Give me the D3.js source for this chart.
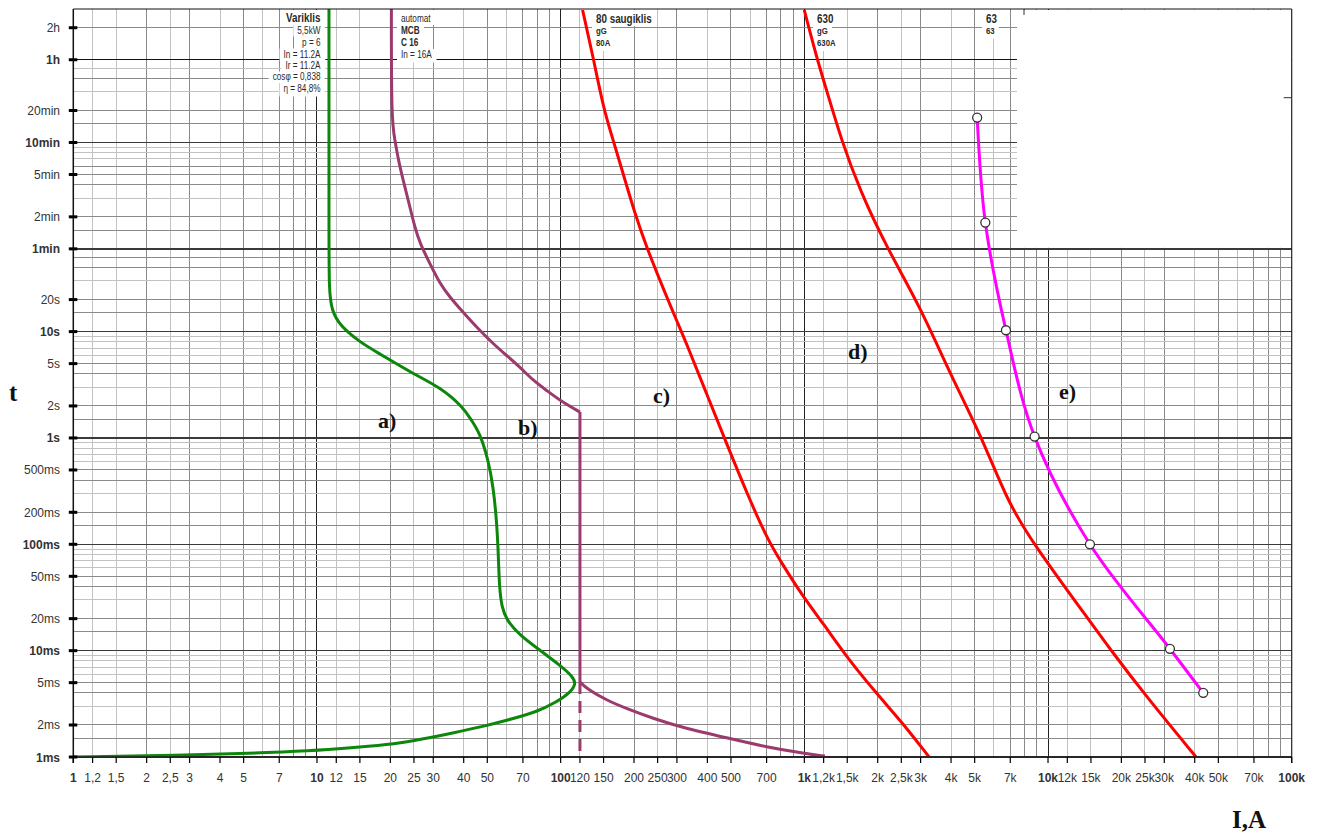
<!DOCTYPE html>
<html>
<head>
<meta charset="utf-8">
<script src="https://d3js.org/d3.v7.min.js"></script>
<style>
  body { margin: 0; background: #fff; }
  svg { display: block; }
</style>
</head>
<body>
<div id="graph"></div>
<script>
var w = 1320, h = 834;

// axis ticks
var xTickVals = [1,1.2,1.5,2,2.5,3,4,5,7,10,12,15,20,25,30,40,50,70,100,120,150,200,250,300,400,500,700,
  1000,1200,1500,2000,2500,3000,4000,5000,7000,10000,12000,15000,20000,25000,30000,40000,50000,70000,100000];
var xTickLabels = ["1","1,2","1,5","2","2,5","3","4","5","7","10","12","15","20","25","30","40","50","70",
  "100","120","150","200","250","300","400","500","700","1k","1,2k","1,5k","2k","2,5k","3k","4k","5k","7k",
  "10k","12k","15k","20k","25k","30k","40k","50k","70k","100k"];
var yTickVals = [0.001,0.002,0.005,0.01,0.02,0.05,0.1,0.2,0.5,1,2,5,10,20,60,120,300,600,1200,3600,7200];
var yTickLabels = ["1ms","2ms","5ms","10ms","20ms","50ms","100ms","200ms","500ms","1s","2s","5s","10s","20s",
  "1min","2min","5min","10min","20min","1h","2h"];
var yMajor = [0.001,0.01,0.1,1,10,60,600,3600];

// grid lines (seconds)
var yGridMid = [0.0015,0.002,0.004,0.005,0.015,0.02,0.04,0.05,0.15,0.2,0.4,0.5,1.5,2,4,5,15,20,40,50,
  90,120,240,300,360,900,1200,2400,7200];
var yGridLight = [0.003,0.006,0.007,0.008,0.009,0.03,0.06,0.07,0.08,0.09,0.3,0.6,0.7,0.8,0.9,3,6,7,8,9,30,
  180,420,480,540,1800,3000];
var xGridMant = [1.2,1.5,2,2.5,3,4,5,6,7,8,9];
var xGridMidMant = [2,3,5,7,8,9];

// curves: [current A, time s]
var curveA = [[11.2,10800],[11.2,89],[11.2,24],[11.5,15.8],[12.4,11.4],[15.0,7.95],[18.1,6.18],[24.8,4.01],
  [32.0,3.0],[39.8,1.95],[43.1,1.46],[46.7,1.1],[50.5,0.614],[52.9,0.345],[54.6,0.168],[55.5,0.082],
  [56.0,0.04],[57.3,0.0257],[60.0,0.0193],[68.1,0.0139],[82.2,0.0101],[99.3,0.0073],[112.6,0.00565],
  [115.5,0.0049],[110,0.00408],[96.3,0.00329],[79.7,0.00265],[60.0,0.00221],[48.1,0.00194],[35.1,0.00166],
  [30.0,0.00154],[21.9,0.00135],[16.5,0.00126],[11.3,0.00117],[7.05,0.00111],[4.98,0.00108],[2.83,0.00104],[1,0.001]];
var curveBUpper = [[20.2,10800],[20.2,964],[20.9,625],[21.6,405],[22.6,263],[23.7,171],[25.2,95.7],[26.5,66.9],
  [29.1,43.4],[32.0,28.1],[35.1,21.1],[39.8,15.2],[45.2,11.0],[52.9,7.68],[60.0,5.96],[68.1,4.63],[77.2,3.47],
  [87.6,2.80],[99.3,2.25],[120,1.75]];
var curveBLower = [[120,0.00507],[127.9,0.0044],[154.5,0.00341],[186.6,0.00285],[239.9,0.0023],[308.8,0.00192],
  [495,0.00149],[700,0.00124],[996,0.00108],[1215,0.00102]];
var curveBDash = [[120,0.00507],[120,0.001]];
var curveC = [[123,10570],[136,3793],[149.5,1285],[164.4,625],[180.6,304],[201.8,128],[225.4,62.1],[255.6,30.2],
  [299,12.7],[328.8,7.68],[397.3,2.60],[479.9,0.882],[598,0.259],[700,0.117],[794,0.0706],[990,0.0319],
  [1196,0.018],[1492,0.0087],[1980,0.00394],[2546,0.00206],[3250,0.001]];
var curveD = [[999,10570],[1123,3793],[1235,1845],[1422,625],[1691,212],[2176,62.1],[2981,17.3],[3958,4.04],
  [5340,1.03],[6761,0.263],[8690,0.101],[14860,0.0189],[17930,0.0104],[25390,0.00367],[40500,0.001]];
var curveE = [[5120,1030],[5530,106],[6720,10.3],[8810,1.03],[14860,0.1],[31640,0.0104],[43350,0.00401]];

// text blocks at the top
var boxVariklis = [["Variklis",12,"bold",22],["5,5kW",10,"normal",33.5],["p = 6",10,"normal",45.5],
  ["In = 11.2A",10,"normal",57.5],["Ir = 11.2A",10,"normal",68.5],["cos\u03c6 = 0,838",10,"normal",80],
  ["\u03b7 = 84,8%",10,"normal",91.5]];
var boxMCB = [["automat",10,"normal",22],["MCB",10,"bold",34],["C 16",10,"bold",46],["In = 16A",10,"normal",57.5]];
var box80 = [["80 saugiklis",12,"bold",23],["gG",9.5,"bold",33.5],["80A",9.5,"bold",46]];
var box630 = [["630",12,"bold",23],["gG",9.5,"bold",33.5],["630A",9.5,"bold",46]];
var box63 = [["63",12,"bold",23],["63",9.5,"bold",33.5]];

var x = d3.scaleLog().domain([1, 100000]).range([73.3, 1291.7]);
var y = d3.scaleLog().domain([0.001, 10800]).range([757, 9]);
var x0 = x.range()[0], x1 = x.range()[1], yb = y.range()[0], yt = y.range()[1];

var svg = d3.select("#graph").append("svg").attr("width", w).attr("height", h);

svg.append("clipPath").attr("id", "plot").append("rect")
  .attr("x", x0).attr("y", yt).attr("width", x1 - x0).attr("height", yb - yt);

var grid = svg.append("g").attr("shape-rendering", "crispEdges");

// vertical grid
var decades = [1, 10, 100, 1000, 10000];
decades.forEach(function(d) {
  xGridMant.forEach(function(m) {
    grid.append("line")
      .attr("x1", x(d * m)).attr("x2", x(d * m))
      .attr("y1", yt).attr("y2", yb)
      .attr("stroke", xGridMidMant.indexOf(m) >= 0 ? "#8a8a8a" : "#c2c2c2")
      .attr("stroke-width", 1);
  });
  if (d > 1) {
    grid.append("line")
      .attr("x1", x(d)).attr("x2", x(d)).attr("y1", yt).attr("y2", yb)
      .attr("stroke", "#222").attr("stroke-width", 1);
  }
});

// horizontal grid
grid.selectAll(".hl").data(yGridLight).enter().append("line")
  .attr("x1", x0).attr("x2", x1)
  .attr("y1", function(d) { return y(d); }).attr("y2", function(d) { return y(d); })
  .attr("stroke", "#c2c2c2");
grid.selectAll(".hm").data(yGridMid).enter().append("line")
  .attr("x1", x0).attr("x2", x1)
  .attr("y1", function(d) { return y(d); }).attr("y2", function(d) { return y(d); })
  .attr("stroke", "#8a8a8a");
grid.selectAll(".hd").data(yMajor).enter().append("line")
  .attr("x1", x0).attr("x2", x1)
  .attr("y1", function(d) { return y(d); }).attr("y2", function(d) { return y(d); })
  .attr("stroke", function(d) { return d == 3600 ? "#111" : "#3a3a3a"; })
  .attr("stroke-width", function(d) { return d == 3600 ? 1 : 1.5; });

// empty top-right corner
svg.append("rect")
  .attr("x", 1017).attr("y", yt + 1)
  .attr("width", x1 - 1017 - 0.5).attr("height", y(60) - yt - 2)
  .attr("fill", "#fff");
svg.append("line").attr("x1", 1024).attr("x2", 1024).attr("y1", yt).attr("y2", yt + 6)
  .attr("stroke", "#333");
svg.append("line").attr("x1", x1 - 8).attr("x2", x1).attr("y1", 97.7).attr("y2", 97.7)
  .attr("stroke", "#333");

// label blocks with per-row white background
var bgLayer = svg.append("g");
var curveLayer = svg.append("g").attr("clip-path", "url(#plot)");
var textLayer = svg.append("g");
var narrow = 0.82;

function drawBox(rows, xpos, anchor) {
  var prevBottom = yt + 1;
  rows.forEach(function(r, i) {
    var g = textLayer.append("g")
      .attr("transform", "translate(" + xpos + "," + r[3] + ") scale(" + narrow + ",1)");
    var t = g.append("text")
      .attr("x", 0).attr("y", 0)
      .attr("text-anchor", anchor)
      .attr("font-family", "'Liberation Sans', Arial, sans-serif")
      .attr("font-size", r[1] + "px")
      .attr("font-weight", r[2])
      .attr("fill", "#2a2a2a")
      .text(r[0]);
    var bb = t.node().getBBox();
    var bottom = (i == rows.length - 1) ? r[3] + 5 : r[3] + 3;
    bgLayer.append("rect")
      .attr("x", xpos + bb.x * narrow - 4).attr("y", prevBottom)
      .attr("width", bb.width * narrow + 8).attr("height", bottom - prevBottom)
      .attr("fill", "#fff");
    prevBottom = bottom;
  });
}
drawBox(boxVariklis, 320.5, "end");
drawBox(boxMCB, 401, "start");
drawBox(box80, 596, "start");
drawBox(box630, 817, "start");
drawBox(box63, 986, "start");

// curves
var smooth = d3.line()
  .x(function(d) { return x(d[0]); })
  .y(function(d) { return y(d[1]); })
  .curve(d3.curveBasis);
var through = d3.line()
  .x(function(d) { return x(d[0]); })
  .y(function(d) { return y(d[1]); })
  .curve(d3.curveCatmullRom.alpha(0.5));
var straight = d3.line()
  .x(function(d) { return x(d[0]); })
  .y(function(d) { return y(d[1]); });

curveLayer.append("path").datum(curveA).attr("d", smooth)
  .attr("fill", "none").attr("stroke", "#0c870c").attr("stroke-width", 3);

var purple = "#9b3a6c";
curveLayer.append("path").datum(curveBUpper).attr("d", smooth)
  .attr("fill", "none").attr("stroke", purple).attr("stroke-width", 3);
curveLayer.append("path").datum([curveBUpper[curveBUpper.length - 1], curveBLower[0]]).attr("d", straight)
  .attr("fill", "none").attr("stroke", purple).attr("stroke-width", 3);
curveLayer.append("path").datum(curveBLower).attr("d", smooth)
  .attr("fill", "none").attr("stroke", purple).attr("stroke-width", 3);
curveLayer.append("path").datum(curveBDash).attr("d", straight)
  .attr("fill", "none").attr("stroke", purple).attr("stroke-width", 3)
  .attr("stroke-dasharray", "12,7");

curveLayer.append("path").datum(curveC).attr("d", smooth)
  .attr("fill", "none").attr("stroke", "#ff0000").attr("stroke-width", 3);
curveLayer.append("path").datum(curveD).attr("d", smooth)
  .attr("fill", "none").attr("stroke", "#ff0000").attr("stroke-width", 3);
curveLayer.append("path").datum(curveE).attr("d", through)
  .attr("fill", "none").attr("stroke", "#ff00ff").attr("stroke-width", 3);
curveLayer.selectAll(".pt").data(curveE).enter().append("circle")
  .attr("cx", function(d) { return x(d[0]); })
  .attr("cy", function(d) { return y(d[1]); })
  .attr("r", 4.5)
  .attr("fill", "#fff").attr("stroke", "#333").attr("stroke-width", 1.3);

// curve letters
var letters = [["a)",378,428],["b)",518,435],["c)",653,403],["d)",848,359],["e)",1059,399]];
svg.selectAll(".lab").data(letters).enter().append("text")
  .attr("x", function(d) { return d[1]; })
  .attr("y", function(d) { return d[2]; })
  .attr("font-family", "'Liberation Serif', 'Times New Roman', serif")
  .attr("font-weight", "bold").attr("font-size", "22px")
  .attr("fill", "#111")
  .text(function(d) { return d[0]; });

// borders
svg.append("line").attr("x1", x0).attr("x2", x1).attr("y1", yt).attr("y2", yt)
  .attr("stroke", "#111").attr("stroke-width", 1.2);
svg.append("line").attr("x1", x1).attr("x2", x1).attr("y1", yt).attr("y2", yb + 6)
  .attr("stroke", "#222").attr("stroke-width", 1.2);
svg.append("line").attr("x1", x0).attr("x2", x1).attr("y1", yb).attr("y2", yb)
  .attr("stroke", "#222").attr("stroke-width", 1.5);
svg.append("line").attr("x1", x0).attr("x2", x0).attr("y1", yt).attr("y2", yb + 6)
  .attr("stroke", "#111").attr("stroke-width", 1.5);

// y ticks
svg.selectAll(".yt").data(yTickVals).enter().append("line")
  .attr("x1", x0 - 4.5).attr("x2", x0 + 4)
  .attr("y1", function(d) { return y(d); }).attr("y2", function(d) { return y(d); })
  .attr("stroke", "#000").attr("stroke-width", 3);
svg.selectAll(".ylab").data(yTickVals).enter().append("text")
  .attr("x", 60)
  .attr("y", function(d) { return y(d) + 4.5; })
  .attr("text-anchor", "end")
  .attr("font-family", "'Liberation Sans', Arial, sans-serif")
  .attr("font-size", "12px")
  .attr("font-weight", function(d) { return yMajor.indexOf(d) >= 0 ? "bold" : "normal"; })
  .attr("fill", "#333")
  .text(function(d, i) { return yTickLabels[i]; });

// x ticks
svg.selectAll(".xt").data(xTickVals).enter().append("line")
  .attr("x1", function(d) { return x(d); }).attr("x2", function(d) { return x(d); })
  .attr("y1", yb).attr("y2", yb + 6)
  .attr("stroke", "#000").attr("stroke-width", 1.2);
svg.selectAll(".xlab").data(xTickVals).enter().append("text")
  .attr("x", function(d) { return x(d); })
  .attr("y", 782)
  .attr("text-anchor", "middle")
  .attr("font-family", "'Liberation Sans', Arial, sans-serif")
  .attr("font-size", "12px")
  .attr("font-weight", function(d) { return decades.indexOf(d) >= 0 || d == 100000 ? "bold" : "normal"; })
  .attr("fill", "#333")
  .text(function(d, i) { return xTickLabels[i]; });

// axis titles
svg.append("text").attr("x", 9).attr("y", 401)
  .attr("font-family", "'Liberation Serif', 'Times New Roman', serif")
  .attr("font-weight", "bold").attr("font-size", "25px").attr("fill", "#111")
  .text("t");
svg.append("text").attr("x", 1232).attr("y", 828)
  .attr("font-family", "'Liberation Serif', 'Times New Roman', serif")
  .attr("font-weight", "bold").attr("font-size", "25px").attr("fill", "#111")
  .text("I,A");
</script>
</body>
</html>
